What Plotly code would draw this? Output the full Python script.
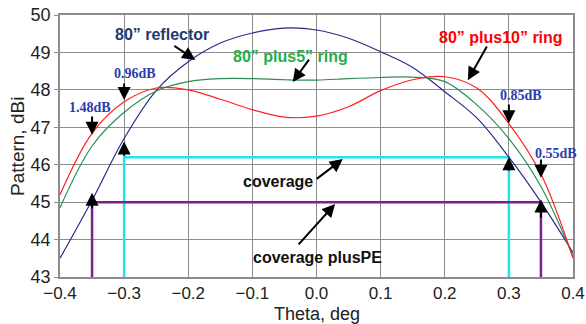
import plotly.graph_objects as go

theta = [-0.4, -0.35, -0.3, -0.25, -0.2, -0.15, -0.1, -0.05, 0.0,
         0.05, 0.1, 0.15, 0.2, 0.25, 0.3, 0.35, 0.4]
reflector = [43.5, 45.05, 46.7, 47.98, 48.75, 49.25, 49.52, 49.65, 49.6,
             49.38, 49.02, 48.6, 47.95, 47.25, 46.2, 45.0, 43.65]
plus5 = [44.85, 46.5, 47.4, 47.97, 48.22, 48.3, 48.3, 48.27, 48.26,
         48.3, 48.33, 48.34, 48.22, 47.6, 46.7, 45.42, 43.55]
plus10 = [45.2, 46.84, 47.68, 48.05, 48.0, 47.75, 47.47, 47.27, 47.3,
          47.55, 47.98, 48.27, 48.35, 48.05, 47.1, 45.75, 43.5]

coverage_x = [-0.3, -0.3, 0.3, 0.3]
coverage_y = [43.0, 46.2, 46.2, 43.0]
coverage_pe_x = [-0.35, -0.35, 0.35, 0.35]
coverage_pe_y = [43.0, 45.0, 45.0, 43.0]

fig = go.Figure()
fig.add_trace(go.Scatter(x=coverage_x, y=coverage_y, mode="lines",
                         line=dict(color="#1EE6F0", width=2.5), hoverinfo="skip"))
fig.add_trace(go.Scatter(x=coverage_pe_x, y=coverage_pe_y, mode="lines",
                         line=dict(color="#7F1F8F", width=2.5), hoverinfo="skip"))
fig.add_trace(go.Scatter(x=theta, y=reflector, mode="lines", line_shape="spline",
                         line=dict(color="#2A2A8C", width=1.2)))
fig.add_trace(go.Scatter(x=theta, y=plus5, mode="lines", line_shape="spline",
                         line=dict(color="#2E8B57", width=1.2)))
fig.add_trace(go.Scatter(x=theta, y=plus10, mode="lines", line_shape="spline",
                         line=dict(color="#FF2020", width=1.2)))

ann = []
def label(x, y, text, color, size=16, family="Liberation Sans, Arial", bold=True):
    ann.append(dict(x=x, y=y, xref="x", yref="y", text=("<b>%s</b>" % text) if bold else text,
                    showarrow=False, xanchor="center", yanchor="middle",
                    font=dict(size=size, color=color, family=family)))

def arrow(x0, y0, x1, y1):
    ann.append(dict(x=x1, y=y1, ax=x0, ay=y0, xref="x", yref="y", axref="x", ayref="y",
                    text="", showarrow=True, arrowhead=2, arrowsize=1.3, arrowwidth=2,
                    arrowcolor="black"))

label(-0.241, 49.47, "80” reflector", "#1F3A6E")
label(-0.04, 48.9, "80” plus5” ring", "#22B04A")
label(0.288, 49.41, "80” plus10” ring", "#FF0000")
label(-0.06, 45.54, "coverage", "#111111")
label(0.002, 43.53, "coverage plusPE", "#111111")
serif = "Liberation Serif, Times New Roman"
label(-0.283, 48.45, "0.96dB", "#2A3CB0", size=14, family=serif)
label(-0.353, 47.52, "1.48dB", "#2A3CB0", size=14, family=serif)
label(0.319, 47.84, "0.85dB", "#2A3CB0", size=14, family=serif)
label(0.373, 46.31, "0.55dB", "#2A3CB0", size=14, family=serif)

arrow(-0.224, 49.2, -0.189, 48.8)
arrow(-0.010, 48.85, -0.037, 48.21)
arrow(0.267, 49.2, 0.236, 48.26)
arrow(-0.002, 45.59, 0.041, 46.15)
arrow(-0.030, 43.83, 0.029, 44.95)
arrow(-0.3, 48.21, -0.3, 47.73)
arrow(-0.35, 47.33, -0.35, 46.8)
arrow(0.3, 47.65, 0.3, 47.11)
arrow(0.35, 46.18, 0.35, 45.65)
arrow(-0.3, 46.2, -0.3, 46.62)
arrow(-0.35, 44.8, -0.35, 45.25)
arrow(0.3, 45.8, 0.3, 46.2)
arrow(0.35, 44.55, 0.35, 45.07)

# axis titles as paper-positioned annotations
ann.append(dict(x=0.5, y=-0.142, xref="paper", yref="paper", text="Theta, deg",
                showarrow=False, xanchor="center", yanchor="middle",
                font=dict(size=18, color="#222222", family="Liberation Sans, Arial")))
ann.append(dict(x=-0.084, y=0.5, xref="paper", yref="paper", text="Pattern, dBi",
                showarrow=False, xanchor="center", yanchor="middle", textangle=-90,
                font=dict(size=19, color="#222222", family="Liberation Sans, Arial")))

fig.update_layout(
    width=586, height=324,
    margin=dict(l=60, r=13, t=15, b=47),
    paper_bgcolor="white", plot_bgcolor="white",
    showlegend=False,
    annotations=ann,
    font=dict(family="Liberation Sans, Arial", color="#222222"),
)
fig.update_xaxes(range=[-0.4, 0.4], dtick=0.1, tickformat=".1f",
                 showgrid=True, gridcolor="#8C8C8C", gridwidth=1,
                 showline=True, linecolor="#8C8C8C", linewidth=1.5, mirror=True,
                 ticks="", tickfont=dict(size=17), zeroline=False,
                 automargin=False)
fig.update_yaxes(range=[43, 50], dtick=1,
                 showgrid=True, gridcolor="#8C8C8C", gridwidth=1,
                 showline=True, linecolor="#8C8C8C", linewidth=1.5, mirror=True,
                 ticks="outside", ticklen=4, tickcolor="#8C8C8C",
                 tickfont=dict(size=18), zeroline=False,
                 automargin=False)

fig.write_html("out.html")
